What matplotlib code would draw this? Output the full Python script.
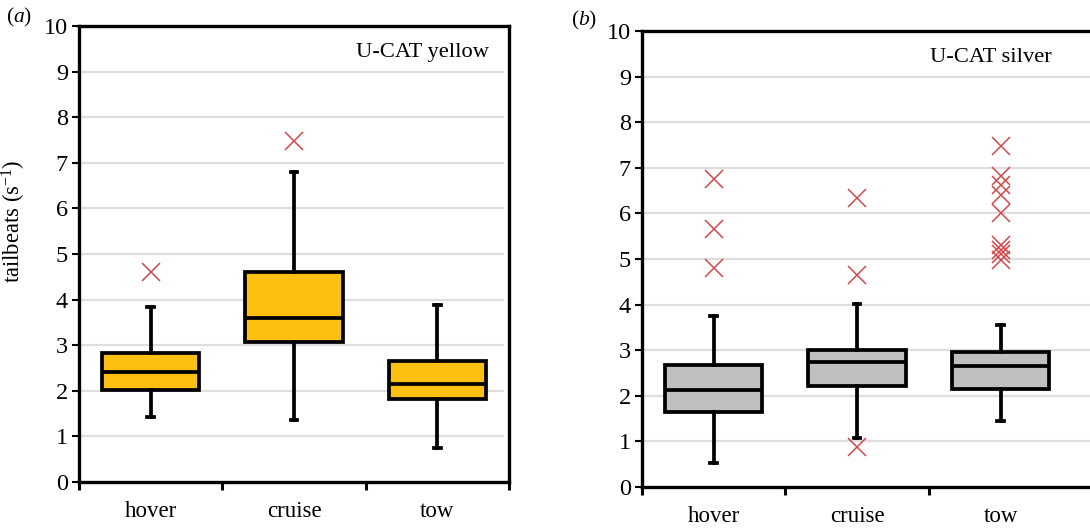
import numpy as np
import matplotlib
matplotlib.use('Agg')
import matplotlib.pyplot as plt

plt.rcParams['font.family'] = ['Liberation Serif', 'DejaVu Serif']
plt.rcParams['mathtext.fontset'] = 'custom'
plt.rcParams['mathtext.rm'] = 'Liberation Serif'
plt.rcParams['mathtext.it'] = 'Liberation Serif:italic'

categories = ['hover', 'cruise', 'tow']

# panel (a): U-CAT yellow
yellow_whislo = [1.43, 1.36, 0.74]
yellow_q1 = [2.02, 3.08, 1.83]
yellow_med = [2.41, 3.60, 2.16]
yellow_q3 = [2.82, 4.61, 2.65]
yellow_whishi = [3.83, 6.80, 3.88]
yellow_fliers = [[4.61], [7.48], []]

# panel (b): U-CAT silver
silver_whislo = [0.53, 1.08, 1.45]
silver_q1 = [1.65, 2.22, 2.16]
silver_med = [2.13, 2.75, 2.66]
silver_q3 = [2.68, 3.00, 2.95]
silver_whishi = [3.75, 4.02, 3.55]
silver_fliers = [[6.75, 5.65, 4.81], [6.34, 4.65, 0.88],
                 [7.48, 6.82, 6.62, 6.40, 6.00, 5.30, 5.20, 5.10, 4.97]]

W, H = 1090, 531


def make_stats(lo, q1, med, q3, hi, fliers):
    return [dict(whislo=a, q1=b, med=c, q3=d, whishi=e, fliers=f, label=n)
            for a, b, c, d, e, f, n in zip(lo, q1, med, q3, hi, fliers, categories)]


def draw_panel(ax, stats, fill, title, xmax, bticks, grid_end):
    ax.bxp(stats, positions=[1, 2, 3], widths=0.68, patch_artist=True,
           boxprops=dict(facecolor=fill, edgecolor='black', linewidth=2.7),
           medianprops=dict(color='black', linewidth=2.7),
           whiskerprops=dict(color='black', linewidth=2.7),
           capprops=dict(color='black', linewidth=2.7),
           capwidths=0.045,
           flierprops=dict(marker='x', markeredgecolor='#d2484a', markersize=13,
                           markeredgewidth=1.1, linestyle='none'),
           zorder=3)
    ax.set_xlim(0.5, xmax)
    ax.set_ylim(0, 10)
    ax.set_yticks(np.arange(0, 11, 1))
    ax.set_yticklabels([str(v) for v in range(11)], fontsize=17.5)
    # light horizontal gridlines, not quite reaching the spines
    for v in range(1, 10):
        ax.plot([0.52, grid_end], [v, v], color='#dedede', linewidth=1.6, zorder=1)
    ax.set_xticks(bticks)
    ax.set_xticklabels([])
    ax.set_xticks([1, 2, 3], minor=True)
    ax.set_xticklabels(categories, minor=True, fontsize=16.5)
    ax.tick_params(axis='x', which='major', direction='out', length=6, width=2.2)
    ax.tick_params(axis='x', which='minor', length=0, pad=14)
    ax.tick_params(axis='y', direction='out', length=5, width=1.5, pad=3)
    for s in ax.spines.values():
        s.set_linewidth(2.4)
    ax.text(3.36, 9.42, title, ha='right', va='center', fontsize=16.2)


fig = plt.figure(figsize=(W / 100, H / 100), dpi=100)
ax_a = fig.add_axes([79 / W, (H - 482) / H, 430 / W, 456 / H])
ax_b = fig.add_axes([642 / W, (H - 487) / H, 466 / W, 456 / H])

xmax_b = 0.5 + 466 / 143.4
draw_panel(ax_a, make_stats(yellow_whislo, yellow_q1, yellow_med, yellow_q3,
                            yellow_whishi, yellow_fliers),
           '#fdc010', 'U-CAT yellow', 3.5, [0.5, 1.5, 2.5, 3.5], 3.46)
draw_panel(ax_b, make_stats(silver_whislo, silver_q1, silver_med, silver_q3,
                            silver_whishi, silver_fliers),
           '#c0c0c0', 'U-CAT silver', xmax_b, [0.5, 1.5, 2.5], xmax_b)

ax_a.set_ylabel('tailbeats (s$^{-1}$)', fontsize=16.3)
ax_a.yaxis.set_label_coords(-0.118, 0.572)

fig.text(6 / W, 1 - 17 / H, '($a$)', fontsize=15.5, va='center', ha='left')
fig.text(571 / W, 1 - 20 / H, '($b$)', fontsize=15.5, va='center', ha='left')

fig.savefig('out.png', dpi=100)
